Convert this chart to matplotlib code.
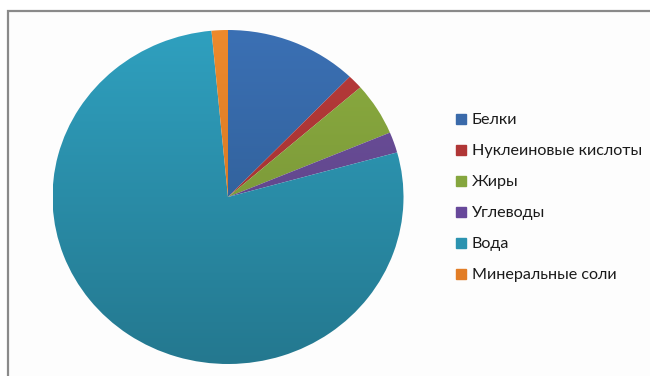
import numpy as np
import matplotlib
matplotlib.use("Agg")
import matplotlib.pyplot as plt
from matplotlib.patches import Rectangle
from matplotlib.lines import Line2D

plt.rcParams['font.family'] = ['Lato', 'DejaVu Sans']

# composition of the cell, %
labels = ["Белки", "Нуклеиновые кислоты", "Жиры", "Углеводы", "Вода", "Минеральные соли"]
values = [12.2, 1.4, 5.1, 2.0, 77.8, 1.5]
# top / bottom colour of each slice gradient
top_colors = ["#3b70b4", "#b83b3a", "#8cad40", "#6e51a0", "#2fa0bf", "#ee8a2c"]
bottom_colors = ["#2a5688", "#962d2d", "#6f8a33", "#573e7b", "#24788f", "#c86b1d"]
legend_colors = ["#3a6aaa", "#b03636", "#85a63e", "#67489a", "#2b93b0", "#e27d26"]

fig = plt.figure(figsize=(6.5, 3.76), dpi=100)
fig.patch.set_facecolor("white")

# chart frame
frame = Rectangle((8 / 650, -0.02), 0.99, 1 - 10.5 / 376 + 0.02, transform=fig.transFigure,
                  facecolor="#fdfdfd", edgecolor="#8a8a8a", linewidth=1.6, zorder=-5)
fig.patches.append(frame)

ax = fig.add_axes([52.5 / 650, 12 / 376, 351 / 650, 334 / 376])
ax.set_zorder(2)
wedges, _ = ax.pie(values, startangle=90, counterclock=False, colors=top_colors,
                   wedgeprops=dict(linewidth=0))
ax.set_aspect('auto')

# vertical gradient inside each slice
yy = np.linspace(0, 1, 256)[:, None]
for w, c1, c2 in zip(wedges, top_colors, bottom_colors):
    a = np.array(matplotlib.colors.to_rgb(c1))
    b = np.array(matplotlib.colors.to_rgb(c2))
    img = (a * (1 - yy) + b * yy)[:, None, :].repeat(2, axis=1)
    im = ax.imshow(img, extent=(-1, 1, -1, 1), origin='upper', aspect='auto', zorder=1)
    im.set_clip_path(w)
    w.set_facecolor("none")
ax.set_xlim(-1, 1)
ax.set_ylim(-1, 1)
ax.axis('off')

handles = [Line2D([], [], marker='s', linestyle='none', markersize=6.5,
                  markerfacecolor=c, markeredgecolor=c) for c in legend_colors]
fig.legend(handles, labels, loc='upper left', bbox_to_anchor=(455 / 650, 1 - 113 / 376),
           frameon=False, fontsize=11.6, labelspacing=1.04, handlelength=0.7,
           handletextpad=0.35, borderpad=0, borderaxespad=0, labelcolor="#1a1a1a")

fig.savefig("out.png", dpi=100)
